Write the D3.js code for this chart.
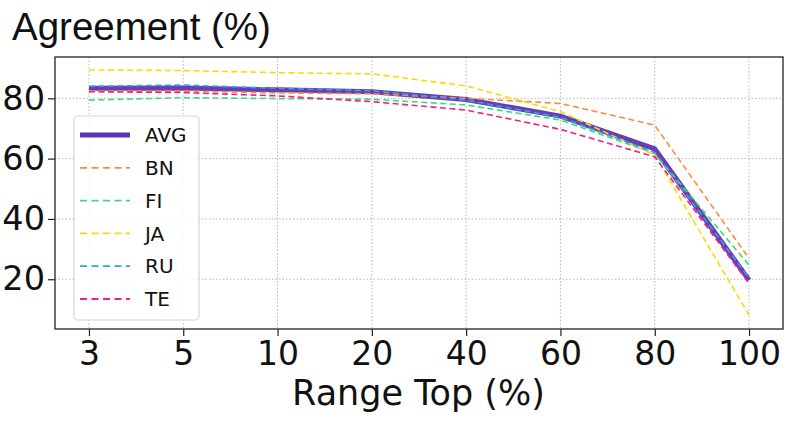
<!DOCTYPE html>
<html><head><meta charset="utf-8">
<script src="https://cdn.jsdelivr.net/npm/d3@7"></script>
<style>html,body{margin:0;padding:0;background:#fff;overflow:hidden}</style>
</head><body><svg id="c" width="789" height="421"></svg>
<script>
const categories = ["3","5","10","20","40","60","80","100"];
const yTicks = [20,40,60,80];
const AVG = [83.3,83.4,82.8,82.2,79.6,74.1,63.2,19.7];
const BN  = [82.4,82.4,81.8,81.5,80.0,78.3,71.1,26.9];
const FI  = [79.4,80.2,79.9,79.7,77.8,72.8,61.7,24.7];
const JA  = [89.4,89.2,88.5,88.1,84.1,75.6,61.2,8.1];
const RU  = [84.0,84.4,83.3,82.5,79.4,73.7,62.0,20.4];
const TE  = [82.2,81.9,80.8,78.9,76.1,69.7,60.6,18.6];
const seriesNames = ["AVG","BN","FI","JA","RU","TE"];
const seriesValues = [AVG,BN,FI,JA,RU,TE];
const colors = ["#5e35b1","#ff8a3d","#3ddc7a","#ffd800","#3a9ee4","#f0208a"];

const svg = d3.select("#c");
const L=55, R=783, T=57, B=329;
const x = d3.scalePoint().domain(categories).range([L,R]).padding(0.36);
const y = d3.scaleLinear().domain([3.5,93.7]).range([B,T]);

// grid
const g = svg.append("g");
g.selectAll(".vg").data(categories).join("line")
  .attr("x1",d=>x(d)).attr("x2",d=>x(d)).attr("y1",T).attr("y2",B)
  .attr("stroke","#b0b0b0").attr("stroke-width",0.9).attr("stroke-dasharray","1.5,2");
g.selectAll(".hg").data(yTicks).join("line")
  .attr("x1",L).attr("x2",R).attr("y1",d=>y(d)).attr("y2",d=>y(d))
  .attr("stroke","#b0b0b0").attr("stroke-width",0.9).attr("stroke-dasharray","1.5,2");

// axes
const xa = svg.append("g").attr("transform",`translate(0,${B})`)
  .call(d3.axisBottom(x).tickSize(7).tickPadding(6));
xa.select(".domain").remove();
xa.selectAll("line").attr("stroke","#222").attr("stroke-width",1.2);
xa.selectAll("text").attr("font-family","DejaVu Sans").attr("font-size",33).attr("fill","#111")
  .attr("dy","0.71em");
const ya = svg.append("g").attr("transform",`translate(${L},0)`)
  .call(d3.axisLeft(y).tickValues(yTicks).tickSize(7).tickPadding(3));
ya.select(".domain").remove();
ya.selectAll("line").attr("stroke","#222").attr("stroke-width",1.2);
ya.selectAll("text").attr("font-family","DejaVu Sans").attr("font-size",33.5).attr("fill","#111");

// lines
const line = d3.line().x((d,i)=>x(categories[i])).y(d=>y(d));
svg.append("clipPath").attr("id","pc").append("rect")
  .attr("x",L).attr("y",T).attr("width",R-L).attr("height",B-T);
const lg = svg.append("g").attr("clip-path","url(#pc)");
seriesValues.forEach((vals,i)=>{
  lg.append("path").datum(vals).attr("d",line).attr("fill","none")
    .attr("stroke",colors[i])
    .attr("stroke-width", i===0?5:1.6)
    .attr("stroke-dasharray", i===0?null:"6,3.5")
    .attr("stroke-opacity", i===0?0.95:1);
});

// frame
svg.append("rect").attr("x",L).attr("y",T).attr("width",R-L).attr("height",B-T)
  .attr("fill","none").attr("stroke","#333").attr("stroke-width",1.4);

// legend
const lgX=74, lgY=116, lgW=125, lgH=204;
svg.append("rect").attr("x",lgX).attr("y",lgY).attr("width",lgW).attr("height",lgH)
  .attr("rx",4).attr("fill","#fff").attr("fill-opacity",0.85).attr("stroke","#d6d6d6").attr("stroke-width",1.2);
const le = svg.append("g").selectAll("g").data(seriesNames).join("g")
  .attr("transform",(d,i)=>`translate(0,${135+i*32.8})`);
le.append("line").attr("x1",80).attr("x2",130).attr("y1",0).attr("y2",0)
  .attr("stroke",(d,i)=>colors[i]).attr("stroke-width",(d,i)=>i===0?5:1.8)
  .attr("stroke-dasharray",(d,i)=>i===0?null:"7,4.5");
le.append("text").attr("x",145).attr("y",0).attr("dy","0.36em")
  .attr("font-family","DejaVu Sans").attr("font-size",20).attr("fill","#111").text(d=>d);

// titles
svg.append("text").attr("x",12).attr("y",40).attr("font-family","Liberation Sans")
  .attr("font-size",38.5).attr("fill","#111").text("Agreement (%)");
svg.append("text").attr("x",(L+R)/2-0.5).attr("y",405).attr("text-anchor","middle")
  .attr("font-family","DejaVu Sans").attr("font-size",35).attr("fill","#111").text("Range Top (%)");
</script></body></html>
